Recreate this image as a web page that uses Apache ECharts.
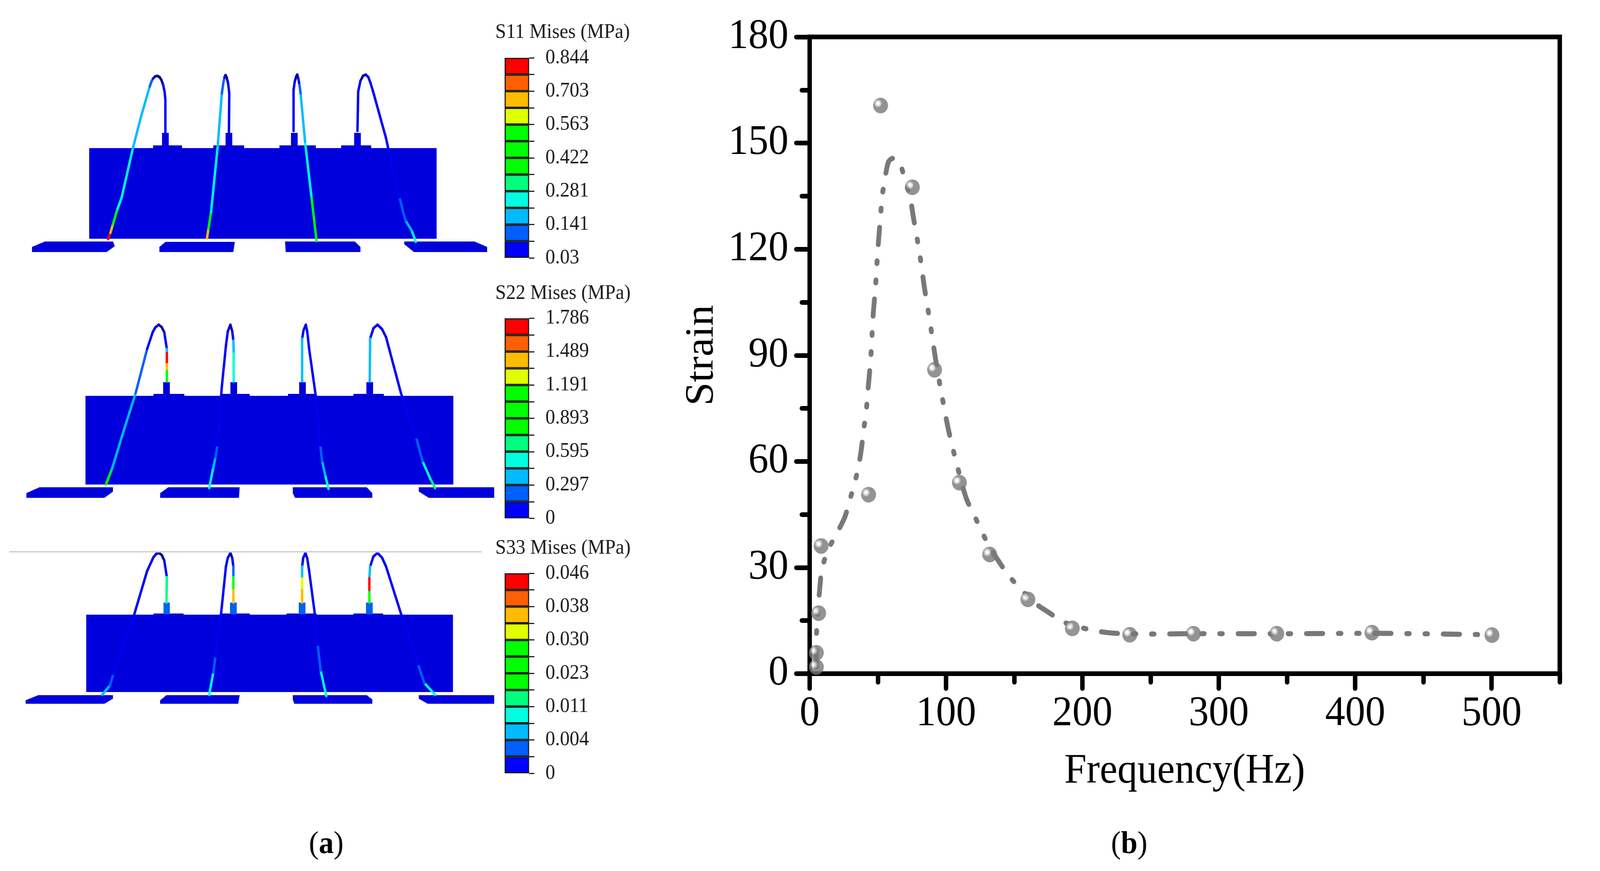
<!DOCTYPE html>
<html>
<head>
<meta charset="utf-8">
<title>Strain vs frequency</title>
<script src="https://cdn.jsdelivr.net/npm/echarts@6/dist/echarts.min.js"></script>
<style>
html, body { margin: 0; padding: 0; background: #fff; overflow: hidden; }
#chart { width: 4306px; height: 2229px; transform-origin: 0 0; }
</style>
</head>
<body>
<div id="chart"></div>
<script>
// measured points, panel (b)
var strainFreq = [4.9, 4.9, 6.6, 8.4, 43.2, 52, 75.3, 91.6, 109.8, 132, 160, 192.6, 234.7, 281.4, 342.5, 412.3, 500.3];
var strainValues = [1.9, 5.9, 17.1, 36.1, 50.6, 160.6, 137.5, 85.9, 54, 33.7, 21, 12.8, 11, 11.3, 11.3, 11.6, 10.9];

// fit curve, panel (b)
var fitFreq = [4.9, 4.9, 5.4, 7.5, 9, 13, 18.8, 25.6, 28.9, 33, 35.7, 37.9, 39.5, 41.4, 42.5, 44.7, 45.5, 46.6, 48.2, 49.9, 52, 53.1, 55, 57.8, 61.3, 65.4, 69.8, 73.6, 76, 80.4, 84.2, 88.3, 92.4, 96.7, 101.9, 107.9, 114.7, 120.4, 126.2, 131.9, 138.4, 145.2, 154, 165.7, 175.7, 186.1, 200.5, 210.9, 224.5, 248.8, 281.5, 342.5, 412, 500];
var fitStrain = [1.9, 9.1, 14.1, 24.6, 29.4, 34.6, 38.9, 44.1, 48.4, 54, 58.3, 63.5, 68.7, 73.9, 79.1, 88.7, 93.9, 101.7, 109, 119.3, 129.5, 134.8, 139.4, 144.7, 145.7, 145, 139.7, 134.8, 129.1, 119.3, 109, 99.2, 88.7, 79.1, 68.7, 59.2, 49.7, 45, 40.2, 35.8, 31.9, 28.1, 24.2, 19.8, 17.2, 14.6, 12.9, 12, 11.4, 11.2, 11.3, 11.3, 11.4, 11];

var xMajorTicks = [0, 100, 200, 300, 400, 500];
var xMinorTicks = [50, 150, 250, 350, 450, 550];

// stress scale bars, bottom to top
var scaleColors = ['#0000ff', '#005fff', '#00bbff', '#00ffe0', '#00ff7f', '#00ff00', '#00ff00', '#00ff00', '#e0ff00', '#ffbb00', '#ff5f00', '#ff0000'];
var scaleNames = ['S11 Mises (MPa)', 'S22 Mises (MPa)', 'S33 Mises (MPa)'];
var scaleLabels = [
    ['0.03', '0.141', '0.281', '0.422', '0.563', '0.703', '0.844'],
    ['0', '0.297', '0.595', '0.893', '1.191', '1.489', '1.786'],
    ['0', '0.004', '0.011', '0.023', '0.030', '0.038', '0.046']
];

// FE model outlines
var wirePalette = ['#00009c', '#0000f4', '#005fff', '#00bbff', '#00ffe0', '#00ff7f', '#00ff00', '#e0ff00', '#ffbb00', '#ff5f00', '#ff0000'];
var bodyPolys = [
    [[240, 379], [1175, 379], [1175, 611], [240, 611]],
    [[86, 632], [121, 618], [304, 618], [309, 630], [287, 645], [86, 645]],
    [[429, 632], [445, 619], [632, 619], [628, 645], [429, 645]],
    [[767, 618], [955, 618], [970, 632], [970, 645], [769, 645]],
    [[1088, 618], [1277, 618], [1311, 632], [1311, 645], [1114, 645], [1088, 625]],
    [[412, 372], [490, 372], [490, 380], [412, 380]],
    [[574, 372], [657, 372], [657, 380], [574, 380]],
    [[752, 372], [850, 372], [850, 380], [752, 380]],
    [[918, 372], [999, 372], [999, 380], [918, 380]],
    [[436, 340], [454, 340], [454, 378], [436, 378]],
    [[607, 340], [625, 340], [625, 378], [607, 378]],
    [[783, 340], [801, 340], [801, 378], [783, 378]],
    [[953, 340], [971, 340], [971, 378], [953, 378]],

    [[230, 1013], [1220, 1013], [1220, 1240], [230, 1240]],
    [[71, 1262], [106, 1247], [304, 1247], [304, 1258], [281, 1274], [71, 1274]],
    [[431, 1262], [453, 1247], [645, 1247], [643, 1274], [431, 1274]],
    [[788, 1247], [987, 1247], [1002, 1262], [1002, 1274], [794, 1274], [788, 1262]],
    [[1127, 1247], [1330, 1247], [1330, 1274], [1154, 1274], [1127, 1258]],
    [[413, 1008], [496, 1008], [496, 1015], [413, 1015]],
    [[597, 1008], [672, 1008], [672, 1015], [597, 1015]],
    [[775, 1008], [852, 1008], [852, 1015], [775, 1015]],
    [[951, 1008], [1033, 1008], [1033, 1015], [951, 1015]],
    [[439, 978], [457, 978], [457, 1010], [439, 1010]],
    [[620, 978], [638, 978], [638, 1010], [620, 1010]],
    [[805, 978], [823, 978], [823, 1010], [805, 1010]],
    [[986, 978], [1004, 978], [1004, 1010], [986, 1010]],

    [[232, 1573], [1219, 1573], [1219, 1771], [232, 1771]],
    [[69, 1792], [103, 1779], [304, 1779], [304, 1788], [281, 1801], [69, 1801]],
    [[431, 1792], [448, 1779], [645, 1779], [641, 1801], [431, 1801]],
    [[788, 1779], [987, 1779], [1002, 1790], [1002, 1801], [792, 1801], [788, 1790]],
    [[1127, 1779], [1330, 1779], [1330, 1801], [1151, 1801], [1127, 1788]],
    [[413, 1570], [494, 1570], [494, 1575], [413, 1575]],
    [[597, 1570], [672, 1570], [672, 1575], [597, 1575]],
    [[771, 1570], [852, 1570], [852, 1575], [771, 1575]],
    [[951, 1570], [1031, 1570], [1031, 1575], [951, 1575]]
];
// each vertex: x, y, palette index of the stretch that starts there
var wires = [
    [[291, 612, 10], [297, 596, 8], [304, 574, 6], [316, 535, 4], [327, 507, 4], [358, 378, 3], [380, 297, 3], [403, 221, 2], [408, 208, 2], [412, 201, 1], [417, 196, 0], [423, 194, 0], [429, 197, 0], [434, 204, 0], [439, 217, 1], [443, 235, 1], [445, 255, 1], [445, 275, 1], [445, 340, 1]],
    [[557, 610, 8], [561, 585, 6], [568, 543, 4], [586, 373, 3], [597, 239, 2], [601, 212, 2], [604, 198, 0], [607, 192, 0], [610, 198, 0], [614, 214, 1], [617, 239, 1], [616, 340, 1]],
    [[852, 617, 6], [838, 502, 4], [821, 363, 3], [809, 239, 2], [805, 212, 1], [802, 198, 1], [800, 191, 0], [797, 196, 0], [793, 210, 1], [790, 230, 1], [790, 335, 1]],
    [[1119, 619, 4], [1108, 590, 3], [1091, 564, 2], [1075, 505, 1], [1056, 430, 1], [1039, 354, 1], [1004, 234, 1], [997, 212, 1], [991, 197, 1], [984, 191, 0], [977, 194, 0], [970, 207, 1], [964, 234, 1], [962, 335, 1]],

    [[285, 1240, 6], [301, 1201, 3], [333, 1102, 3], [365, 1006, 2], [396, 893, 1], [411, 850, 1], [418, 838, 1], [427, 831, 0], [435, 837, 0], [442, 850, 1], [449, 893, 3], [449, 904, 10], [449, 932, 8], [449, 950, 6], [449, 976, 3]],
    [[563, 1249, 4], [574, 1197, 3], [580, 1170, 2], [585, 1140, 1], [597, 989, 1], [608, 885, 1], [613, 848, 1], [620, 831, 0], [625, 848, 1], [628, 872, 3], [629, 905, 4], [629, 976, 5]],
    [[884, 1251, 4], [875, 1215, 3], [867, 1180, 2], [862, 1140, 1], [850, 1015, 1], [832, 893, 1], [827, 850, 1], [823, 831, 1], [817, 845, 1], [813, 867, 3], [813, 976, 3]],
    [[1171, 1249, 5], [1158, 1225, 4], [1137, 1180, 2], [1120, 1120, 1], [1079, 1006, 1], [1039, 863, 1], [1028, 842, 1], [1016, 831, 1], [1005, 840, 1], [996, 867, 3], [995, 976, 3]],

    [[275, 1778, 3], [296, 1754, 2], [305, 1725, 1], [362, 1570, 1], [396, 1461, 1], [413, 1426, 1], [420, 1418, 1], [427, 1415, 0], [435, 1420, 0], [442, 1434, 1], [449, 1477, 5], [448, 1542, 3]],
    [[563, 1778, 4], [574, 1721, 2], [580, 1680, 1], [595, 1570, 1], [608, 1450, 1], [613, 1428, 1], [620, 1415, 0], [625, 1428, 1], [628, 1450, 2], [628, 1477, 6], [628, 1510, 8], [628, 1542, 3]],
    [[878, 1781, 4], [863, 1716, 2], [855, 1650, 1], [847, 1570, 1], [832, 1461, 1], [827, 1430, 1], [822, 1415, 1], [816, 1428, 1], [813, 1450, 3], [813, 1480, 7], [813, 1510, 8], [813, 1542, 3]],
    [[1171, 1778, 4], [1142, 1748, 2], [1125, 1700, 1], [1079, 1570, 1], [1039, 1450, 1], [1028, 1427, 1], [1016, 1415, 1], [1005, 1424, 1], [996, 1450, 3], [994, 1480, 10], [994, 1515, 6], [994, 1542, 3]]
];
// the stubs of the third model are lighter than the body
var lightStubs = [
    [[440, 1542], [457, 1542], [457, 1572], [440, 1572]],
    [[619, 1542], [637, 1542], [637, 1572], [619, 1572]],
    [[804, 1542], [822, 1542], [822, 1572], [804, 1572]],
    [[985, 1542], [1003, 1542], [1003, 1572], [985, 1572]]
];
var ruleLine = [[25, 1412], [1297, 1412]];

var SERIF = '"Liberation Serif", "Times New Roman", serif';

var segments = [];
wires.forEach(function (wire) {
    for (var i = 0; i < wire.length - 1; i++) {
        segments.push([wire[i][0], wire[i][1], wire[i + 1][0], wire[i + 1][1], wire[i][2]]);
    }
});

function polySeries(polys, color) {
    return {
        type: 'custom', xAxisIndex: 2, yAxisIndex: 1, clip: false, silent: true, z: 1,
        data: polys.map(function (p, i) { return [i]; }),
        renderItem: function (params, api) {
            return {
                type: 'polygon',
                shape: { points: polys[params.dataIndex].map(function (pt) { return api.coord(pt); }) },
                style: { fill: color }
            };
        }
    };
}

var dom = document.getElementById('chart');
// the browser window can be narrower than the picture, squeeze the page into it
if (window.innerWidth < 4306) {
    dom.style.transform = 'scale(' + (window.innerWidth / 4306) + ',1)';
}
var chart = echarts.init(dom, null, { renderer: 'canvas', devicePixelRatio: 1 });

var grids = [
    { left: 2179, top: 94.5, width: 2018.7, height: 1629.5, show: true, borderColor: '#000', borderWidth: 12, backgroundColor: 'transparent' },
    { left: 0, top: 0, width: 1330, height: 2229 }
];
var scaleTops = [148, 814.5, 1467];
var xAxes = [
    {
        type: 'value', gridIndex: 0, min: 0, max: 550, position: 'bottom',
        axisLine: { show: true, onZero: false, lineStyle: { color: '#000', width: 12, cap: 'round' } },
        axisTick: { show: true, customValues: xMajorTicks, length: 38, lineStyle: { color: '#000', width: 12, cap: 'round' } },
        axisLabel: { customValues: xMajorTicks, margin: 50, color: '#000', fontFamily: SERIF, fontSize: 108 },
        splitLine: { show: false },
        name: 'Frequency(Hz)', nameLocation: 'middle', nameGap: 197,
        nameTextStyle: { color: '#000', fontFamily: SERIF, fontSize: 107 }
    },
    {
        type: 'value', gridIndex: 0, min: 0, max: 550, position: 'bottom',
        axisLine: { show: false },
        axisTick: { show: true, customValues: xMinorTicks, length: 22, lineStyle: { color: '#000', width: 12, cap: 'round' } },
        axisLabel: { show: false },
        splitLine: { show: false }
    },
    { type: 'value', gridIndex: 1, min: 0, max: 1330, show: false }
];
var yAxes = [
    {
        type: 'value', gridIndex: 0, min: 0, max: 180, interval: 30, position: 'left',
        axisLine: { show: true, onZero: false, lineStyle: { color: '#000', width: 12, cap: 'round' } },
        axisTick: { show: true, length: 36, lineStyle: { color: '#000', width: 12, cap: 'round' } },
        minorTick: { show: true, splitNumber: 2, length: 21, lineStyle: { color: '#000', width: 12, cap: 'round' } },
        axisLabel: { margin: 57, color: '#000', fontFamily: SERIF, fontSize: 108 },
        splitLine: { show: false },
        name: 'Strain', nameLocation: 'middle', nameGap: 235,
        nameTextStyle: { color: '#000', fontFamily: SERIF, fontSize: 108 }
    },
    { type: 'value', gridIndex: 1, min: 0, max: 2229, inverse: true, show: false }
];

var series = [
    polySeries(bodyPolys, '#0000dc'),
    polySeries(lightStubs, '#0060f0'),
    {
        type: 'custom', xAxisIndex: 2, yAxisIndex: 1, clip: false, silent: true, z: 2,
        data: segments,
        renderItem: function (params, api) {
            var a = api.coord([api.value(0), api.value(1)]);
            var b = api.coord([api.value(2), api.value(3)]);
            return {
                type: 'line',
                shape: { x1: a[0], y1: a[1], x2: b[0], y2: b[1] },
                style: { stroke: wirePalette[api.value(4)], lineWidth: 6.5, lineCap: 'round' }
            };
        }
    },
    {
        type: 'line', xAxisIndex: 2, yAxisIndex: 1, data: ruleLine, showSymbol: false, silent: true,
        lineStyle: { color: '#d4d4d4', width: 4 }
    },
    {
        type: 'line', xAxisIndex: 0, yAxisIndex: 0, z: 3, showSymbol: false, smooth: 0.3, silent: true,
        data: fitFreq.map(function (f, i) { return [f, fitStrain[i]]; }),
        lineStyle: { color: '#787878', width: 13, cap: 'round', type: [44, 42, 7, 42, 7, 42] }
    },
    {
        type: 'scatter', xAxisIndex: 0, yAxisIndex: 0, z: 4, symbol: 'circle', symbolSize: 40, silent: true,
        data: strainFreq.map(function (f, i) { return [f, strainValues[i]]; }),
        itemStyle: {
            color: new echarts.graphic.RadialGradient(0.33, 0.36, 0.25, [
                { offset: 0, color: '#ffffff' }, { offset: 0.4, color: '#ffffff' },
                { offset: 0.41, color: '#d8d8d8' }, { offset: 0.7, color: '#d8d8d8' },
                { offset: 0.71, color: '#a8a8a8' }, { offset: 0.99, color: '#a8a8a8' },
                { offset: 1, color: '#787878' }
            ])
        }
    }
];

var captionRich = {
    r: { fontFamily: SERIF, fontSize: 80, fontWeight: 'normal', color: '#000' },
    b: { fontFamily: SERIF, fontSize: 80, fontWeight: 'bold', color: '#000' }
};
var titles = [
    { text: '{r|(}{b|a}{r|)}', left: 873, top: 2117, textAlign: 'center', textStyle: { rich: captionRich } },
    { text: '{r|(}{b|b}{r|)}', left: 3034, top: 2117, textAlign: 'center', textStyle: { rich: captionRich } }
];

scaleNames.forEach(function (name, k) {
    var labels = scaleLabels[k];
    grids.push({ left: 1358, top: scaleTops[k], width: 66, height: 512 });
    xAxes.push({ type: 'category', gridIndex: k + 2, data: [name], show: false });
    yAxes.push({
        type: 'value', gridIndex: k + 2, min: 0, max: 12, interval: 1, position: 'right',
        axisLine: { show: false },
        axisTick: { show: true, length: 14, lineStyle: { color: '#222', width: 3 } },
        axisLabel: {
            margin: 44, color: '#1a1a1a', fontFamily: SERIF, fontSize: 52,
            formatter: function (v) { return v % 2 === 0 ? labels[v / 2] : ''; }
        },
        splitLine: { show: false }
    });
    scaleColors.forEach(function (c) {
        series.push({
            type: 'bar', xAxisIndex: k + 3, yAxisIndex: k + 2, stack: 'scale' + k, barWidth: '100%', silent: true, z: 2,
            data: [1],
            itemStyle: { color: c, borderColor: '#1c1c1c', borderWidth: 3 }
        });
    });
    titles.push({
        text: name, left: 1328, top: [82, 750, 1402][k] - 30,
        textStyle: { color: '#1a1a1a', fontFamily: SERIF, fontSize: 52, fontWeight: 'normal' }
    });
});

chart.setOption({
    animation: false,
    backgroundColor: '#fff',
    title: titles,
    grid: grids,
    xAxis: xAxes,
    yAxis: yAxes,
    series: series
});
</script>
</body>
</html>
